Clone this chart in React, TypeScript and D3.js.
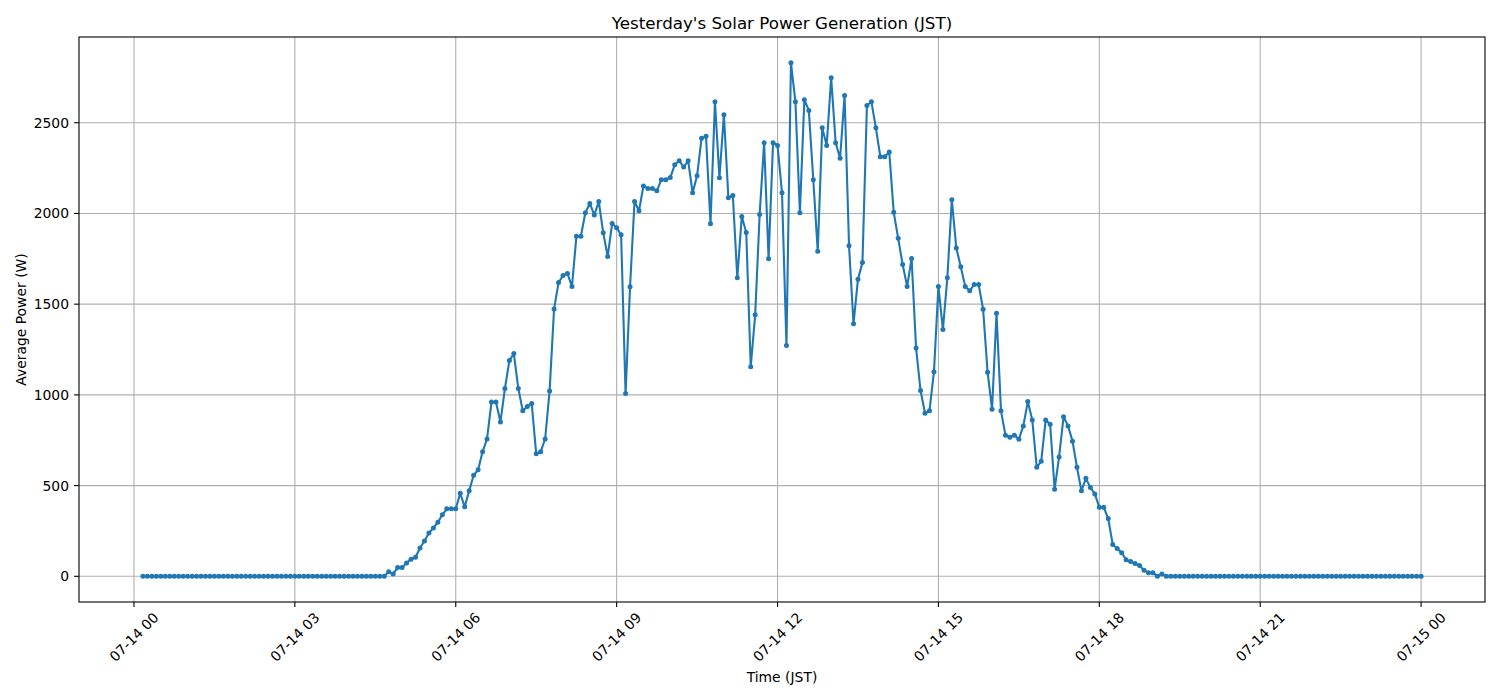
import * as d3 from "d3";

// 5-minute readings, first at 07-14 00:10 JST, last at 07-15 00:00
const startTime = Date.UTC(2024, 6, 14, 0, 10);
const stepMinutes = 5;

// average power (W) per 5-minute slot
const powerValues = [
  0, 0, 0, 0, 0, 0, 0, 0, 0, 0, 0, 0, 0, 0, 0, 0, 0, 0, 0, 0,
  0, 0, 0, 0, 0, 0, 0, 0, 0, 0, 0, 0, 0, 0, 0, 0, 0, 0, 0, 0,
  0, 0, 0, 0, 0, 0, 0, 0, 0, 0, 0, 0, 0, 0, 0,
  25, 13, 48, 48, 74, 94, 105, 156, 195, 239, 267, 298, 339, 372, 372, 372,
  458, 383, 471, 557, 587, 687, 757, 961, 961, 851, 1035, 1189, 1228, 1035, 912, 936,
  952, 675, 687, 757, 1022, 1474, 1619, 1658, 1669, 1597, 1874, 1875, 2004, 2055, 1991, 2066,
  1893, 1763, 1945, 1921, 1882, 1007, 1596, 2066, 2015, 2151, 2138, 2138, 2125, 2186, 2186, 2198,
  2268, 2290, 2256, 2290, 2114, 2208, 2414, 2425, 1943, 2616, 2197, 2544, 2086, 2099, 1645, 1983,
  1895, 1155, 1441, 1994, 2390, 1751, 2390, 2375, 2114, 1272, 2831, 2616, 2004, 2627, 2568, 2186,
  1791, 2472, 2375, 2748, 2390, 2304, 2650, 1822, 1392, 1638, 1729, 2595, 2616, 2472, 2313, 2313,
  2339, 2006, 1863, 1718, 1598, 1752, 1258, 1024, 899, 913, 1128, 1598, 1360, 1646, 2075, 1810,
  1706, 1598, 1574, 1608, 1608, 1472, 1125, 921, 1450, 912, 778, 767, 778, 756, 829, 963,
  862, 601, 634, 862, 838, 480, 658, 879, 829, 745, 601, 471, 540, 489, 454, 380,
  380, 318, 175, 153, 130, 92, 81, 70, 59, 33, 20, 20, 0, 13,
  0, 0, 0, 0, 0, 0, 0, 0, 0, 0, 0, 0, 0, 0, 0, 0, 0, 0, 0, 0,
  0, 0, 0, 0, 0, 0, 0, 0, 0, 0, 0, 0, 0, 0, 0, 0, 0, 0, 0, 0,
  0, 0, 0, 0, 0, 0, 0, 0, 0, 0, 0, 0, 0, 0, 0, 0, 0, 0,
];

const yTicks = [0, 500, 1000, 1500, 2000, 2500];
const xTickHours = [0, 3, 6, 9, 12, 15, 18, 21, 24];

const title = "Yesterday's Solar Power Generation (JST)";
const xLabel = "Time (JST)";
const yLabel = "Average Power (W)";

const width = 1500;
const height = 700;
const marginLeft = 79;
const marginRight = 15;
const marginTop = 37;
const marginBottom = 98;
const font = "DejaVu Sans, sans-serif";
const blue = "#1f77b4";
const gridColor = "#b0b0b0";

export default function App() {
  const data = powerValues.map((v, i) => ({
    t: new Date(startTime + i * stepMinutes * 60000),
    v,
  }));

  // matplotlib style 5% padding on each side
  const tExtent = d3.extent(data, (d) => +d.t) as [number, number];
  const tPad = (tExtent[1] - tExtent[0]) * 0.05;
  const vMax = d3.max(data, (d) => d.v) as number;
  const vPad = vMax * 0.05;

  const xScale = d3
    .scaleUtc()
    .domain([new Date(tExtent[0] - tPad), new Date(tExtent[1] + tPad)])
    .range([marginLeft, width - marginRight]);
  const yScale = d3
    .scaleLinear()
    .domain([-vPad, vMax + vPad])
    .range([height - marginBottom, marginTop]);

  const line = d3
    .line<{ t: Date; v: number }>()
    .x((d) => xScale(d.t))
    .y((d) => yScale(d.v));

  const fmt = d3.utcFormat("%m-%d %H");
  const xTicks = xTickHours.map((h) => new Date(Date.UTC(2024, 6, 14, h)));

  const plotBottom = height - marginBottom;
  const plotRight = width - marginRight;
  const cx = (marginLeft + plotRight) / 2;

  return (
    <svg
      width={width}
      height={height}
      style={{ position: "absolute", left: 0, top: 0, background: "white" }}
      fontFamily={font}
    >
      {/* grid */}
      <g stroke={gridColor} strokeWidth={1.1}>
        {xTicks.map((t, i) => (
          <line key={i} x1={xScale(t)} x2={xScale(t)} y1={marginTop} y2={plotBottom} />
        ))}
        {yTicks.map((v) => (
          <line key={v} x1={marginLeft} x2={plotRight} y1={yScale(v)} y2={yScale(v)} />
        ))}
      </g>

      <path d={line(data) ?? ""} fill="none" stroke={blue} strokeWidth={2.1} strokeLinejoin="round" />
      <g fill={blue}>
        {data.map((d, i) => (
          <circle key={i} cx={xScale(d.t)} cy={yScale(d.v)} r={2.5} />
        ))}
      </g>

      <rect
        x={marginLeft}
        y={marginTop}
        width={plotRight - marginLeft}
        height={plotBottom - marginTop}
        fill="none"
        stroke="black"
        strokeWidth={1.1}
      />

      {/* x axis */}
      <g fontSize={13.9} fill="black">
        {xTicks.map((t, i) => (
          <g key={i}>
            <line x1={xScale(t)} x2={xScale(t)} y1={plotBottom} y2={plotBottom + 4.9} stroke="black" strokeWidth={1.1} />
            <text
              transform={`translate(${xScale(t)},${plotBottom + 35}) rotate(-45)`}
              textAnchor="middle"
              dominantBaseline="central"
            >
              {fmt(t)}
            </text>
          </g>
        ))}
      </g>

      {/* y axis */}
      <g fontSize={13.9} fill="black">
        {yTicks.map((v) => (
          <g key={v}>
            <line x1={marginLeft - 4.9} x2={marginLeft} y1={yScale(v)} y2={yScale(v)} stroke="black" strokeWidth={1.1} />
            <text x={marginLeft - 10} y={yScale(v)} textAnchor="end" dominantBaseline="central">
              {v}
            </text>
          </g>
        ))}
      </g>

      <text x={cx} y={29} textAnchor="middle" fontSize={16.7}>
        {title}
      </text>
      <text x={cx} y={682} textAnchor="middle" fontSize={13.9}>
        {xLabel}
      </text>
      <text
        transform={`translate(21,${(marginTop + plotBottom) / 2}) rotate(-90)`}
        textAnchor="middle"
        dominantBaseline="central"
        fontSize={13.9}
      >
        {yLabel}
      </text>
    </svg>
  );
}
